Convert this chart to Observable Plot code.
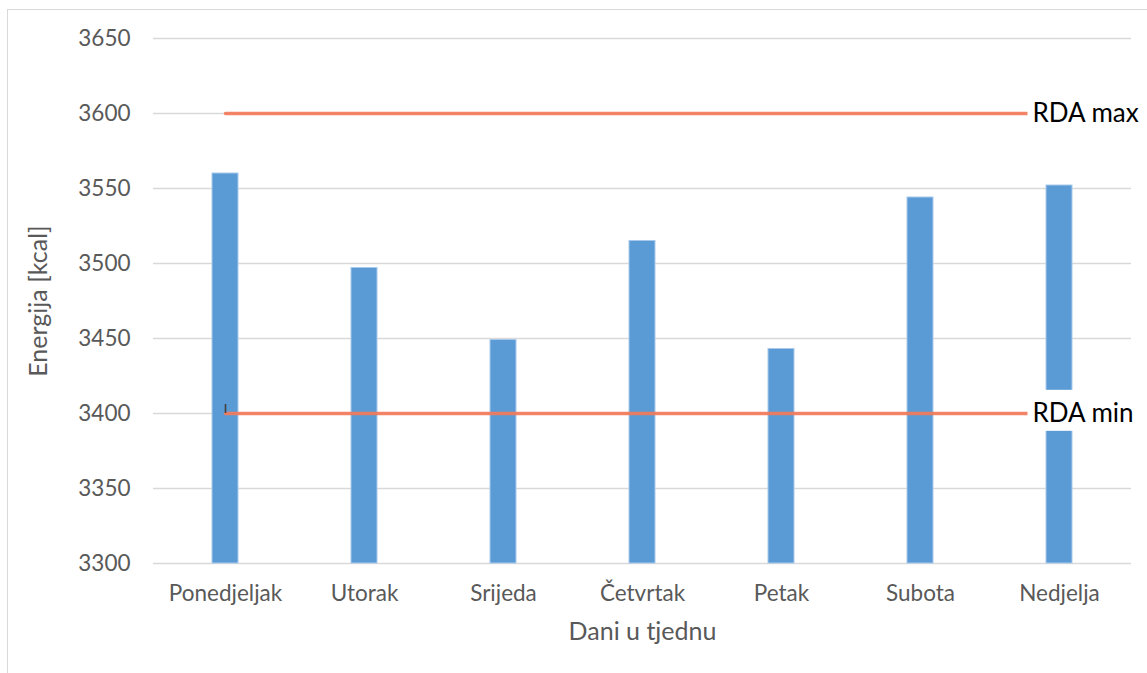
<!DOCTYPE html>
<html><head><meta charset="utf-8">
<script src="https://cdn.jsdelivr.net/npm/d3@7"></script>
<script src="https://cdn.jsdelivr.net/npm/@observablehq/plot@0.6"></script>
<style>
html,body{margin:0;padding:0;background:#fff;overflow:hidden;width:1147px;height:673px;}
#frame{position:absolute;left:7px;top:9px;width:1300px;height:800px;border:1px solid #d9d9d9;}
#chart{position:absolute;left:0;top:0;}
</style></head><body>
<div id="frame"></div>
<div id="chart"></div>
<script>
const days = ["Ponedjeljak", "Utorak", "Srijeda", "Četvrtak", "Petak", "Subota", "Nedjelja"];
const energy = [3560, 3497, 3449, 3515, 3443, 3544, 3552];
const yTicks = [3300, 3350, 3400, 3450, 3500, 3550, 3600, 3650];
const baseValue = 3300;
const rdaMax = 3600;
const rdaMin = 3400;
const rdaLabels = ["RDA max", "RDA min"];
const yTitle = "Energija [kcal]";
const xTitle = "Dani u tjednu";
const stubMark = [{day: "Ponedjeljak", y1: 3400, y2: 3406}];

const bars = days.map((d, i) => ({day: d, v: energy[i]}));
const maxLine = days.map(d => ({day: d, v: rdaMax}));
const minLine = days.map(d => ({day: d, v: rdaMin}));
const labels = [
  {day: days[days.length - 1], v: rdaMax, label: rdaLabels[0]},
  {day: days[days.length - 1], v: rdaMin, label: rdaLabels[1]}
];

const lineColor = "#f37a5a";
const plot = Plot.plot({
  width: 1147,
  height: 673,
  marginLeft: 153,
  marginRight: 16,
  marginTop: 38,
  marginBottom: 110,
  style: {fontFamily: "Lato, 'Open Sans', sans-serif", background: "transparent", overflow: "visible"},
  x: {domain: days, paddingInner: 0.814, paddingOuter: 0.407},
  y: {domain: [3300, 3650]},
  marks: [
    Plot.gridY(yTicks, {stroke: "#d9d9d9", strokeOpacity: 1, strokeWidth: 1.4}),
    Plot.axisY(yTicks, {tickSize: 0, tickPadding: 23, fontSize: 22.5, color: "#595959", label: null, tickFormat: d => String(d)}),
    Plot.axisX({tickSize: 0, tickPadding: 22, fontSize: 22.5, color: "#595959", label: null}),
    Plot.barY(bars, {x: "day", y1: baseValue, y2: "v", fill: "#5b9bd5", stroke: "#a8c9ec", strokeWidth: 1}),
    Plot.lineY(maxLine, {x: "day", y: "v", stroke: lineColor, strokeWidth: 3.5, strokeOpacity: 0.92}),
    Plot.lineY(minLine, {x: "day", y: "v", stroke: lineColor, strokeWidth: 3.5, strokeOpacity: 0.92}),
    Plot.ruleX(stubMark, {x: "day", y1: "y1", y2: "y2", stroke: "#404040", strokeWidth: 1.6}),
    Plot.text([yTitle], {text: d => d, frameAnchor: "left", textAnchor: "middle", rotate: -90, dx: -115, fontSize: 25, fill: "#595959"}),
    Plot.text([xTitle], {text: d => d, frameAnchor: "bottom", textAnchor: "middle", dy: 76, fontSize: 25, fill: "#595959"}),
    Plot.text(labels, {x: "day", y: "v", text: "label", textAnchor: "start", dx: -27, fontSize: 26, fill: "#000"})
  ]
});
document.getElementById("chart").appendChild(plot);

// white label boxes behind the RDA labels (derived from the text bounding boxes)
Array.from(plot.querySelectorAll("text"))
  .filter(t => rdaLabels.includes(t.textContent.trim()))
  .forEach(t => {
    const b = t.getBBox();
    const tr = t.getAttribute("transform");
    const r = document.createElementNS("http://www.w3.org/2000/svg", "rect");
    r.setAttribute("x", b.x - 5);
    r.setAttribute("y", b.y - 6);
    r.setAttribute("width", b.width + 40);
    r.setAttribute("height", b.height + 9);
    r.setAttribute("fill", "#fff");
    if (tr) r.setAttribute("transform", tr);
    t.parentNode.insertBefore(r, t);
  });
</script>
</body></html>
